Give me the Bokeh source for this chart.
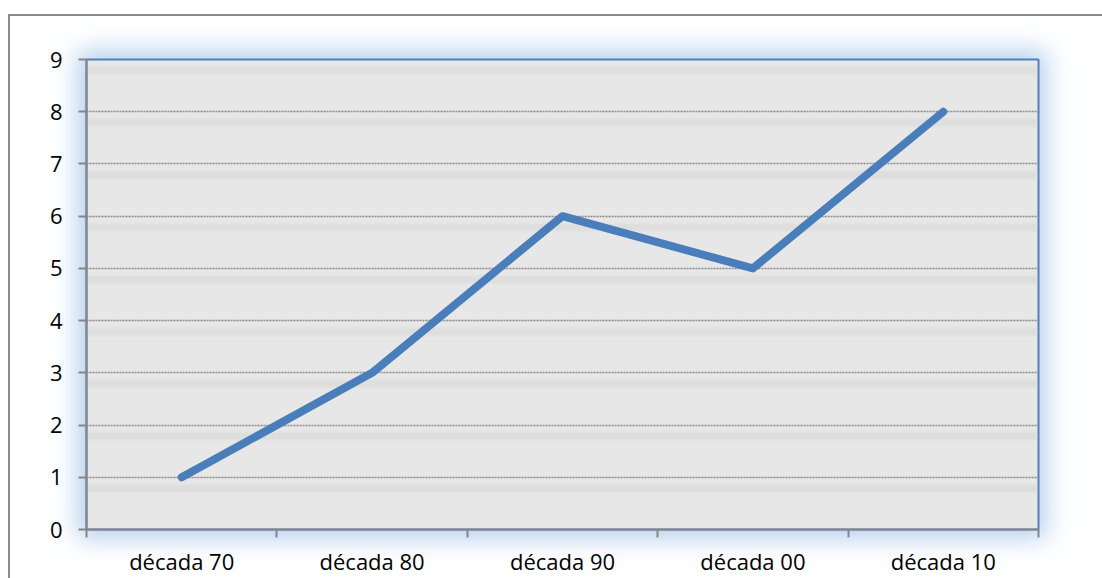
from bokeh.plotting import figure
from bokeh.models import FixedTicker, Range1d, ColumnDataSource, InlineStyleSheet
from bokeh.embed import file_html
from bokeh.resources import INLINE

categories = ["década 70", "década 80", "década 90", "década 00", "década 10"]
values = [1, 3, 6, 5, 8]
y_ticks = [0, 1, 2, 3, 4, 5, 6, 7, 8, 9]

xs = [i + 0.5 for i in range(len(categories))]

W, H = 1102, 578
ML, MR, MT, MB = 86, 64, 59, 48
FW, FH = W - ML - MR, H - MT - MB

css = f"""
:host {{ position: relative; z-index: 0; background: transparent; }}
:host::before {{
  content: ""; position: absolute; left: {ML}px; top: {MT}px;
  width: {FW}px; height: {FH}px; z-index: -1; pointer-events: none;
  box-shadow: 0 0 24px 8px rgba(150, 185, 230, 0.7);
}}
:host::after {{
  content: ""; position: absolute; left: 8px; top: 14px;
  width: {W}px; height: {H}px; pointer-events: none;
  border-top: 2px solid #8c8c8c; border-left: 2px solid #8c8c8c;
}}
"""

p = figure(width=W, height=H, output_backend="svg", toolbar_location=None,
           x_range=Range1d(0, len(categories)), y_range=Range1d(y_ticks[0], y_ticks[-1]),
           min_border_left=ML, min_border_right=MR, min_border_top=MT, min_border_bottom=MB)
p.stylesheets = [InlineStyleSheet(css=css)]
p.background_fill_color = "#e7e7e7"
p.border_fill_alpha = 0
p.outline_line_color = "#4f81bd"
p.outline_line_width = 2

# subtle darker bands just below each gridline
band_src = ColumnDataSource(dict(y=[t - 0.21 for t in y_ticks[1:]]))
for hh, a in [(0.2, 0.1), (0.12, 0.16)]:
    p.hbar(y="y", left=0, right=len(categories), height=hh, source=band_src,
           fill_color="#c8c8c8", fill_alpha=a, line_alpha=0, level="image")

p.line(xs, values, line_color="#4a7ebb", line_width=8, line_cap="round", line_join="round")

p.xaxis.ticker = FixedTicker(ticks=xs, minor_ticks=list(range(len(categories) + 1)))
p.xaxis.major_label_overrides = {x: c for x, c in zip(xs, categories)}
p.xaxis.major_tick_out = 0
p.xaxis.major_tick_in = 0
p.xaxis.minor_tick_out = 8
p.xaxis.minor_tick_in = 0
p.xaxis.minor_tick_line_color = "#868686"
p.xaxis.minor_tick_line_width = 2
p.xaxis.major_label_standoff = 8

p.yaxis.ticker = FixedTicker(ticks=y_ticks)
p.yaxis.minor_tick_line_color = None
p.yaxis.major_tick_out = 8
p.yaxis.major_tick_in = 0
p.yaxis.major_tick_line_color = "#868686"
p.yaxis.major_tick_line_width = 2
p.yaxis.major_label_standoff = 16

for ax in (p.xaxis, p.yaxis):
    ax.axis_line_color = "#868686"
    ax.axis_line_width = 2
    ax.major_label_text_font = "Open Sans"
    ax.major_label_text_font_size = "22px"
    ax.major_label_text_color = "black"

p.xgrid.grid_line_color = None
p.ygrid.ticker = FixedTicker(ticks=y_ticks)
p.ygrid.grid_line_color = "#8a8a8a"
p.ygrid.grid_line_width = 1.5
p.ygrid.grid_line_dash = "2 1"

open("out.html", "w").write(file_html(p, INLINE))
